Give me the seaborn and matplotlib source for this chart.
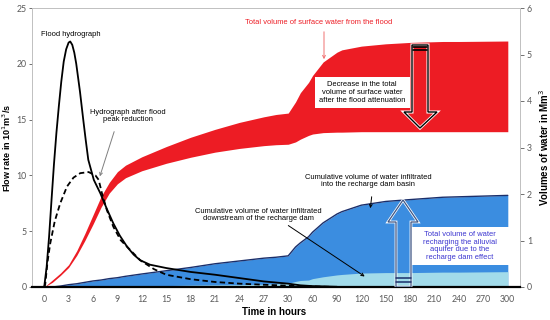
import numpy as np
import pandas as pd
import matplotlib
matplotlib.use("Agg")
import matplotlib.pyplot as plt
import seaborn as sns
from matplotlib.patches import Polygon, Rectangle

# ---------------- data ----------------
# flood hydrograph (hours, flow in 10^1 m3/s)
flood_t = [0, 0.3, 0.6, 0.9, 1.2, 1.5, 1.8, 2.1, 2.4, 2.7, 3.0, 3.2, 3.45, 3.7, 3.94,
           4.4, 4.8, 5.1, 5.42, 6.1, 6.9, 7.7, 8.5, 9.3, 10.2, 11.0, 11.8, 13, 15, 18,
           21, 24, 27, 30, 45, 60, 90]
flood_q = [0, 1.8, 4.5, 7.8, 11.0, 13.8, 16.2, 18.4, 20.2, 21.3, 21.9, 22.0, 21.7, 21.0, 20.0,
           17.5, 15.0, 13.2, 11.4, 9.6, 8.4, 7.0, 5.7, 4.6, 3.6, 2.9, 2.4, 2.0, 1.7, 1.35,
           1.1, 0.8, 0.5, 0.3, 0.15, 0.08, 0.02]
# hydrograph after flood peak reduction
red_t = [0, 0.12, 0.4, 0.74, 1.3, 1.97, 2.8, 3.6, 4.43, 5.46, 6.3, 6.7, 7.1, 7.7, 8.5,
         9.4, 10.6, 11.8, 13.5, 15, 18, 21, 24, 27, 30, 45, 60, 90]
red_q = [0, 0.2, 2.2, 3.9, 5.9, 7.5, 9.0, 9.8, 10.2, 10.3, 10.0, 9.6, 8.4, 6.9, 5.4,
         4.2, 3.3, 2.4, 1.6, 1.1, 0.7, 0.45, 0.3, 0.2, 0.12, 0.08, 0.05, 0.0]

# volumes (Mm3)
vol_t = [0, 1, 2, 3, 4, 5, 6, 7, 8, 9, 10, 12, 15, 18, 21, 24, 27, 28.5, 30, 39, 45,
         55, 60, 73, 90, 96, 120, 150, 180, 220, 240, 300]
surf_total = [0, 0.15, 0.3, 0.48, 0.78, 1.15, 1.55, 1.95, 2.25, 2.48, 2.62, 2.8, 3.02, 3.22,
              3.39, 3.54, 3.66, 3.71, 3.74, 3.98, 4.18, 4.4, 4.55, 4.84, 5.05, 5.1, 5.18,
              5.23, 5.26, 5.28, 5.28, 5.29]
surf_after = [0, 0.1, 0.25, 0.42, 0.68, 1.0, 1.35, 1.72, 2.02, 2.22, 2.35, 2.5, 2.66, 2.79,
              2.9, 2.98, 3.04, 3.06, 3.07, 3.12, 3.18, 3.26, 3.29, 3.32, 3.33, 3.33, 3.34,
              3.34, 3.34, 3.34, 3.34, 3.34]
infil_basin = [0, 0.0, 0.02, 0.05, 0.07, 0.1, 0.13, 0.15, 0.18, 0.2, 0.23, 0.28, 0.35, 0.42,
               0.5, 0.56, 0.62, 0.64, 0.67, 0.86, 0.95, 1.08, 1.18, 1.38, 1.57, 1.62, 1.76,
               1.84, 1.88, 1.93, 1.94, 1.97]
infil_down = [0, 0.0, 0.0, 0.005, 0.01, 0.01, 0.012, 0.015, 0.018, 0.02, 0.022, 0.025, 0.03,
              0.04, 0.045, 0.05, 0.06, 0.07, 0.08, 0.12, 0.14, 0.15, 0.18, 0.22, 0.26, 0.27,
              0.3, 0.31, 0.31, 0.32, 0.32, 0.33]

xticks = [0, 3, 6, 9, 12, 15, 18, 21, 24, 27, 30, 60, 90, 120, 150, 180, 210, 240, 270, 300]

flow = pd.concat([
    pd.DataFrame({"t": flood_t, "q": flood_q, "s": "Flood hydrograph"}),
    pd.DataFrame({"t": red_t, "q": red_q, "s": "After reduction"}),
])

# ---------------- style ----------------
sns.set_theme(style="white")
plt.rcParams['font.family'] = ['Liberation Sans', 'DejaVu Sans']

def fwd(t):
    t = np.asarray(t, dtype=float)
    return np.where(t <= 30, t / 3.0, 10 + (t - 30) / 30.0)

def inv(p):
    p = np.asarray(p, dtype=float)
    return np.where(p <= 10, p * 3.0, 30 + (p - 10) * 30.0)

fig = plt.figure(figsize=(5.5, 3.2), dpi=100)
ax = fig.add_axes([32/550, 33/320, 488/550, 279/320])
ax2 = ax.twinx()
ax.set_zorder(ax2.get_zorder() + 1)
ax.patch.set_visible(False)

ax.set_xscale('function', functions=(fwd, inv))
ax.set_xlim(-1.5, 315)
ax.set_ylim(0, 25)
ax2.set_ylim(0, 6)

RED = "#ed1c24"
BLUE = "#3b8de0"
LBLUE = "#a2dbea"
NAVY = "#1b2f6b"

vt = np.array(vol_t)
ax2.fill_between(vt, surf_after, surf_total, color=RED, lw=0, zorder=2)
ax2.fill_between(vt, 0, infil_basin, color=BLUE, lw=0, zorder=2)
ax2.plot(vt, infil_basin, color=NAVY, lw=1.0, zorder=3)
ax2.fill_between(vt, 0, infil_down, color=LBLUE, lw=0, zorder=3)

sns.lineplot(data=flow, x="t", y="q", style="s", color="black", lw=1.3,
             dashes={"Flood hydrograph": "", "After reduction": (3, 1.8)},
             sort=False, legend=False, ax=ax, zorder=5)

# axes styling
GR = "#595959"
ax.set_xticks(xticks)
ax.set_xticklabels([str(v) for v in xticks])
ax.set_yticks([0, 5, 10, 15, 20, 25])
ax2.set_yticks([0, 1, 2, 3, 4, 5, 6])
for a in (ax, ax2):
    a.tick_params(axis='both', labelsize=6.3, colors=GR, length=3, width=0.6,
                  direction='out', pad=2)
    for lab in a.get_xticklabels() + a.get_yticklabels():
        lab.set_fontfamily('Lato')
ax.tick_params(axis='x', length=2, pad=4)
ax.tick_params(axis='y', length=2.5, pad=1.5)
for sp in ax.spines.values():
    sp.set_color("#c0c0c0")
    sp.set_linewidth(0.6)
for sp in ax2.spines.values():
    sp.set_color("#c0c0c0")
    sp.set_linewidth(0.6)
ax.spines['bottom'].set_color("black")
ax.spines['bottom'].set_linewidth(1.6)
ax.spines['bottom'].set_zorder(10)

ax.set_xlabel("Time in hours", fontsize=7, fontweight='bold', color='black')
ax.set_ylabel("Flow rate in 10$^{1}$m$^{3}$/s", fontsize=6.5, fontweight='bold',
              color='black')
ax2.set_ylabel("Volumes of water in Mm$^{3}$", fontsize=7, fontweight='bold',
               labelpad=4, color='black')
ax.xaxis.set_label_coords((274 - 32) / 488, -0.07)
ax.yaxis.set_label_coords(-(32 - 7) / 488, 0.5)
ax.yaxis.label.set_va('center')

# ---------------- annotations (pixel helpers) ----------------
def P(x, y):
    return ((x - 32) / 488.0, (287 - y) / 279.0)

def txt(x, y, s, color='black', size=5.4, **kw):
    ax.text(*P(x, y), s, transform=ax.transAxes, ha='center', va='center',
            fontsize=size, color=color, zorder=12, linespacing=1.15, **kw)

def arrow(x0, y0, x1, y1, color='black'):
    ax.annotate("", xy=P(x1, y1), xytext=P(x0, y0), xycoords='axes fraction',
                textcoords='axes fraction',
                arrowprops=dict(arrowstyle='->', color=color, lw=0.7,
                                mutation_scale=5), zorder=12)

txt(71, 35, "Flood hydrograph")
txt(128, 116, "Hydrograph after flood\npeak reduction")
arrow(115, 129, 99, 179, color='#7f7f7f')
txt(319, 23, "Total volume of surface water from the flood", color=RED)
arrow(324, 29, 324, 62, color='#f07070')

# decrease box
bx0, by0 = P(315, 108)
bx1, by1 = P(410, 77)
ax.add_patch(Rectangle((bx0, by0), bx1 - bx0, by1 - by0, transform=ax.transAxes,
                       facecolor='white', edgecolor='none', zorder=11))
txt(362, 92.5, "Decrease in the total\nvolume of surface water\nafter the flood attenuation",
    size=5.4)

# down arrow (hollow)
down = [P(412, 45), P(412, 112), P(404, 112), P(420, 128), P(437, 112), P(428, 112), P(428, 45)]
ax.add_patch(Polygon(down, closed=True, transform=ax.transAxes, fill=False,
                     edgecolor='white', lw=2.2, zorder=11))
ax.add_patch(Polygon(down, closed=True, transform=ax.transAxes, fill=False,
                     edgecolor='black', lw=1.0, zorder=11))
for yy in (46.5, 50):
    ax.plot([P(413, yy)[0], P(427, yy)[0]], [P(413, yy)[1]] * 2, transform=ax.transAxes,
            color='black', lw=1.2, zorder=11)

# up arrow (hollow)
up = [P(396, 287), P(396, 222), P(388, 222), P(403, 200), P(418, 222), P(411, 222), P(411, 287)]
ax.add_patch(Polygon(up, closed=True, transform=ax.transAxes, fill=False,
                     edgecolor='white', lw=2.0, zorder=11))
ax.add_patch(Polygon(up, closed=True, transform=ax.transAxes, fill=False,
                     edgecolor='#3e5583', lw=0.9, zorder=11))
for yy in (277.5, 281.5):
    ax.plot([P(396, yy)[0], P(411, yy)[0]], [P(396, yy)[1]] * 2, transform=ax.transAxes,
            color=NAVY, lw=1.1, zorder=11)

txt(368, 181, "Cumulative volume of water infiltrated\ninto the recharge dam basin")
arrow(372, 194, 370, 211)
txt(258, 215, "Cumulative volume of water infiltrated\ndownstream of the recharge dam")
arrow(286, 224, 367, 278)

# blue box
bx0, by0 = P(412, 265)
bx1, by1 = P(510, 227)
ax.add_patch(Rectangle((bx0, by0), bx1 - bx0, by1 - by0, transform=ax.transAxes,
                       facecolor='white', edgecolor='none', zorder=11))
txt(460, 246, "Total volume of water\nrecharging the alluvial\naquifer due to the\nrecharge dam effect",
    color='#3b35d0', size=5.4)

fig.savefig("out.png", dpi=100)
